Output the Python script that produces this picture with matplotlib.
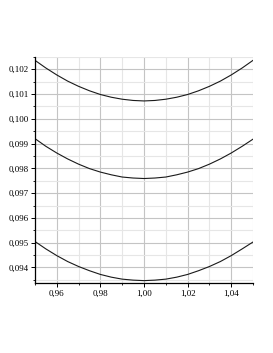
import numpy as np
import matplotlib.pyplot as plt
from matplotlib.ticker import MultipleLocator, FuncFormatter

# valores
x = [0.950, 0.955, 0.960, 0.965, 0.970, 0.975, 0.980, 0.985, 0.990, 0.995, 1.000,
     1.005, 1.010, 1.015, 1.020, 1.025, 1.030, 1.035, 1.040, 1.045, 1.050]
curva_sup = [0.10236, 0.10205, 0.10177, 0.10152, 0.10131, 0.10113, 0.10098,
             0.10087, 0.10079, 0.10074, 0.10072, 0.10074, 0.10079, 0.10087,
             0.10098, 0.10113, 0.10131, 0.10152, 0.10177, 0.10205, 0.10236]
curva_meio = [0.09920, 0.09889, 0.09862, 0.09838, 0.09817, 0.09799, 0.09785,
              0.09774, 0.09765, 0.09761, 0.09759, 0.09761, 0.09765, 0.09774,
              0.09785, 0.09799, 0.09817, 0.09838, 0.09862, 0.09889, 0.09918]
curva_inf = [0.09505, 0.09475, 0.09448, 0.09424, 0.09404, 0.09387, 0.09372,
             0.09361, 0.09353, 0.09349, 0.09347, 0.09349, 0.09353, 0.09361,
             0.09372, 0.09387, 0.09404, 0.09424, 0.09448, 0.09475, 0.09503]

plt.rcParams['font.family'] = ['Liberation Serif', 'DejaVu Serif']

fig = plt.figure(figsize=(2.73, 3.53), dpi=100)
ax = fig.add_axes([0.128, 0.198, 0.799, 0.641])

for c in (curva_sup, curva_meio, curva_inf):
    ax.plot(x, c, color='#1a1a1a', lw=0.8)

ax.set_xlim(0.95, 1.05)
ax.set_ylim(0.09337, 0.1025)

ax.xaxis.set_major_locator(MultipleLocator(0.02))
ax.xaxis.set_minor_locator(MultipleLocator(0.01))
ax.yaxis.set_major_locator(MultipleLocator(0.001))
ax.yaxis.set_minor_locator(MultipleLocator(0.0005))

ax.xaxis.set_major_formatter(FuncFormatter(lambda v, p: f"{v:.2f}".replace('.', ',')))
ax.yaxis.set_major_formatter(FuncFormatter(lambda v, p: f"{v:.3f}".replace('.', ',')))

ax.grid(which='major', color='#c4c4c4', lw=0.8)
ax.grid(which='minor', color='#e6e6e6', lw=0.8)
ax.set_axisbelow(True)

for s in ('top', 'right'):
    ax.spines[s].set_visible(False)
for s in ('left', 'bottom'):
    ax.spines[s].set_linewidth(0.9)

ax.tick_params(which='major', length=3, width=0.7, labelsize=6.5, pad=1.5)
ax.tick_params(which='minor', length=1.5, width=0.6)

fig.savefig('out.png', dpi=100)
